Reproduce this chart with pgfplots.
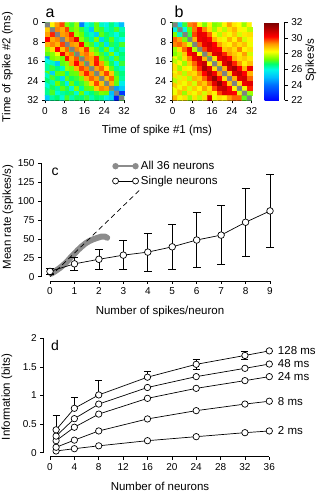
\documentclass[border=0pt]{standalone}
\usepackage{fontspec}
\setmainfont{Liberation Sans}
\usepackage{pgfplots}
\pgfplotsset{compat=1.18}
\definecolor{gr}{RGB}{140,140,140}
\definecolor{hg}{RGB}{128,128,128}
\pgfplotsset{
  colormap={spk}{rgb255(0)=(0,0,255) rgb255(20)=(0,110,255) rgb255(30)=(0,190,255) rgb255(40)=(0,250,230) rgb255(47)=(0,255,110) rgb255(53)=(110,255,0) rgb255(63)=(255,255,0) rgb255(73)=(255,150,0) rgb255(82)=(255,0,0) rgb255(100)=(120,0,0)},
  base/.style={scale only axis, axis line style={-, line width=0.6pt}, tick align=outside,
    major tick length=3pt, tick style={line width=0.6pt, black},
    ticklabel style={font=\fontsize{10}{12}\selectfont},
    /pgf/number format/assume math mode=true, clip=false},
  hm/.style={base, width=79pt, height=78pt, xmin=0, xmax=32, ymin=-32, ymax=0,
    axis lines*=left, xtick={0,8,...,32}, ytick={-32,-24,-16,-8,0},
    yticklabels={32,24,16,8,0}, colormap name=spk, point meta min=22, point meta max=32,
    enlargelimits=false},
}
\begin{document}
\begin{tikzpicture}[font=\fontsize{11.5}{13}\selectfont]
\useasboundingbox (0,0) rectangle (319pt,497pt);

% ---------- panel a ----------
\begin{axis}[hm, at={(45pt,396.5pt)}, anchor=south west]
\addplot[matrix plot*, mesh/cols=16, point meta=explicit]
 table[row sep=\\, x expr={mod(\coordindex,16)*2+1}, y expr={-(floor(\coordindex/16)*2+1)}, meta=z] {
z\\
27\\ 28.4\\ 29.2\\ 29.8\\ 27.4\\ 27.0\\ 27.6\\ 24.2\\ 26.0\\ 26.4\\ 27.2\\ 26.2\\ 25.9\\ 26.6\\ 26.1\\ 25.0\\
28.8\\ 27\\ 29.4\\ 29.1\\ 29.8\\ 27.2\\ 27.5\\ 27.0\\ 26.3\\ 25.2\\ 27.3\\ 27.0\\ 26.2\\ 26.5\\ 27.1\\ 26.3\\
29.2\\ 30.0\\ 27\\ 29.2\\ 29.4\\ 30.1\\ 27.6\\ 27.3\\ 26.5\\ 26.2\\ 25.3\\ 27.2\\ 26.8\\ 26.4\\ 26.0\\ 26.6\\
30.2\\ 29.1\\ 29.4\\ 27\\ 29.2\\ 29.6\\ 30.4\\ 27.5\\ 27.0\\ 26.4\\ 27.4\\ 25.4\\ 26.6\\ 27.2\\ 26.3\\ 26.0\\
29.0\\ 29.4\\ 29.0\\ 29.8\\ 27\\ 29.3\\ 29.1\\ 30.2\\ 27.4\\ 27.1\\ 26.2\\ 27.0\\ 25.6\\ 26.9\\ 26.5\\ 27.1\\
27.6\\ 28.6\\ 30.2\\ 28.9\\ 29.6\\ 27\\ 29.4\\ 29.0\\ 29.9\\ 27.6\\ 27.2\\ 26.5\\ 27.3\\ 26.0\\ 26.8\\ 26.2\\
27.2\\ 27.5\\ 28.2\\ 30.4\\ 29.1\\ 29.5\\ 27\\ 29.2\\ 29.5\\ 28.9\\ 27.5\\ 27.1\\ 26.4\\ 27.4\\ 26.1\\ 26.7\\
24.6\\ 27.4\\ 27.6\\ 27.3\\ 30.1\\ 29.1\\ 29.7\\ 27\\ 29.4\\ 29.2\\ 30.0\\ 27.3\\ 27.0\\ 26.3\\ 27.2\\ 26.5\\
26.0\\ 26.2\\ 25.2\\ 27.2\\ 27.5\\ 29.2\\ 30.2\\ 29.3\\ 27\\ 29.1\\ 30.1\\ 29.2\\ 27.4\\ 26.8\\ 26.0\\ 27.0\\
26.4\\ 27.0\\ 26.6\\ 26.2\\ 27.6\\ 27.4\\ 29.0\\ 29.8\\ 29.4\\ 27\\ 29.2\\ 29.6\\ 28.6\\ 27.2\\ 26.5\\ 26.2\\
27.2\\ 25.4\\ 27.2\\ 27.3\\ 26.5\\ 27.2\\ 27.3\\ 29.1\\ 30.0\\ 29.3\\ 27\\ 29.0\\ 29.8\\ 28.8\\ 27.0\\ 26.6\\
26.2\\ 27.1\\ 26.6\\ 25.5\\ 27.2\\ 26.8\\ 27.0\\ 27.4\\ 29.0\\ 29.6\\ 29.2\\ 27\\ 28.9\\ 29.6\\ 27.3\\ 26.4\\
26.7\\ 26.3\\ 27.3\\ 26.8\\ 25.8\\ 27.3\\ 26.6\\ 27.0\\ 27.5\\ 28.7\\ 29.8\\ 28.9\\ 27\\ 29.0\\ 27.2\\ 25.8\\
26.1\\ 26.8\\ 26.4\\ 27.2\\ 26.9\\ 26.1\\ 27.4\\ 26.4\\ 27.2\\ 27.3\\ 28.8\\ 29.4\\ 29.2\\ 27\\ 24.6\\ 25.2\\
26.5\\ 27.1\\ 26.1\\ 26.4\\ 26.6\\ 26.9\\ 26.1\\ 27.3\\ 26.2\\ 26.6\\ 27.0\\ 27.4\\ 27.3\\ 25.0\\ 27\\ 23.0\\
25.2\\ 26.4\\ 26.7\\ 26.1\\ 27.1\\ 26.3\\ 26.8\\ 26.6\\ 27.0\\ 26.3\\ 26.7\\ 26.5\\ 25.9\\ 25.4\\ 22.5\\ 27\\
};
\addplot[fill=hg, draw=none] coordinates {(0,0)(2,0)(2,-2)(4,-2)(4,-4)(6,-4)(6,-6)(8,-6)(8,-8)(10,-8)(10,-10)(12,-10)(12,-12)(14,-12)(14,-14)(16,-14)(16,-16)(18,-16)(18,-18)(20,-18)(20,-20)(22,-20)(22,-22)(24,-22)(24,-24)(26,-24)(26,-26)(28,-26)(28,-28)(30,-28)(30,-30)(32,-30)(32,-32)(30,-32)(30,-30)(28,-30)(28,-28)(26,-28)(26,-26)(24,-26)(24,-24)(22,-24)(22,-22)(20,-22)(20,-20)(18,-20)(18,-18)(16,-18)(16,-16)(14,-16)(14,-14)(12,-14)(12,-12)(10,-12)(10,-10)(8,-10)(8,-8)(6,-8)(6,-6)(4,-6)(4,-4)(2,-4)(2,-2)(0,-2)} -- cycle;
\end{axis}

% ---------- panel b ----------
\begin{axis}[hm, at={(172.7pt,396.5pt)}, anchor=south west,
  colorbar, colorbar style={at={(parent axis.north east)}, anchor=north west, xshift=4.5pt,
    width=20pt, height=78pt, scale only axis, ymin=22, ymax=32, ytick={22,24,...,32},
    axis x line=none, axis y line*=right, axis line style={-, line width=0.6pt},
    tick align=outside, major tick length=3pt, tick style={line width=0.6pt, black},
    yticklabel style={font=\fontsize{10}{12}\selectfont},
    /pgf/number format/assume math mode=true}]
\addplot[matrix plot*, mesh/cols=16, point meta=explicit]
 table[row sep=\\, x expr={mod(\coordindex,16)*2+1}, y expr={-(floor(\coordindex/16)*2+1)}, meta=z] {
z\\
27\\ 25.5\\ 27.0\\ 29.4\\ 29.6\\ 28.2\\ 27.4\\ 28.4\\ 27.4\\ 27.6\\ 28.4\\ 29.2\\ 28.5\\ 28.3\\ 27.6\\ 28.4\\
25.8\\ 27\\ 26.0\\ 27.2\\ 29.5\\ 30.2\\ 29.4\\ 28.6\\ 27.6\\ 28.5\\ 27.8\\ 28.6\\ 29.0\\ 28.4\\ 28.2\\ 27.8\\
27.4\\ 26.2\\ 27\\ 27.0\\ 29.8\\ 30.5\\ 30.4\\ 29.6\\ 28.4\\ 27.8\\ 28.6\\ 28.2\\ 28.8\\ 28.0\\ 28.5\\ 28.6\\
29.6\\ 29.2\\ 27.4\\ 27\\ 29.0\\ 30.4\\ 30.6\\ 30.2\\ 29.0\\ 28.5\\ 28.2\\ 29.0\\ 28.4\\ 29.2\\ 28.0\\ 28.4\\
29.4\\ 29.6\\ 29.2\\ 28.0\\ 27\\ 29.6\\ 30.5\\ 30.8\\ 30.2\\ 29.2\\ 28.6\\ 28.4\\ 29.0\\ 28.6\\ 28.9\\ 28.2\\
27.6\\ 28.6\\ 29.6\\ 30.4\\ 27.8\\ 27\\ 29.8\\ 30.6\\ 30.4\\ 30.2\\ 28.8\\ 29.0\\ 28.6\\ 29.4\\ 28.4\\ 28.6\\
27.4\\ 27.8\\ 28.8\\ 30.2\\ 30.6\\ 28.4\\ 27\\ 29.2\\ 30.6\\ 30.8\\ 30.0\\ 29.2\\ 28.8\\ 28.5\\ 29.2\\ 28.0\\
28.4\\ 27.6\\ 28.6\\ 29.4\\ 30.4\\ 30.8\\ 29.0\\ 27\\ 28.6\\ 30.4\\ 30.8\\ 30.2\\ 29.0\\ 28.6\\ 28.8\\ 28.5\\
27.8\\ 28.4\\ 27.6\\ 28.8\\ 29.6\\ 30.5\\ 31.0\\ 28.4\\ 27\\ 28.8\\ 30.6\\ 31.2\\ 30.0\\ 29.2\\ 28.4\\ 28.9\\
28.6\\ 27.6\\ 28.5\\ 28.2\\ 29.2\\ 30.0\\ 31.4\\ 30.6\\ 28.6\\ 27\\ 29.0\\ 30.8\\ 31.4\\ 30.2\\ 29.0\\ 30.4\\
28.2\\ 28.8\\ 27.8\\ 28.8\\ 28.6\\ 29.4\\ 30.2\\ 31.2\\ 30.4\\ 29.2\\ 27\\ 28.8\\ 30.6\\ 31.0\\ 30.2\\ 29.0\\
28.6\\ 28.0\\ 28.6\\ 27.8\\ 29.0\\ 28.8\\ 29.6\\ 30.6\\ 31.6\\ 30.2\\ 28.6\\ 27\\ 29.0\\ 30.6\\ 30.8\\ 29.6\\
27.8\\ 28.6\\ 28.2\\ 28.8\\ 28.0\\ 29.2\\ 28.8\\ 29.6\\ 30.6\\ 31.6\\ 30.4\\ 28.8\\ 27\\ 28.6\\ 30.4\\ 30.6\\
28.8\\ 28.2\\ 28.8\\ 28.0\\ 28.8\\ 28.4\\ 29.2\\ 28.6\\ 29.8\\ 30.8\\ 31.0\\ 30.2\\ 28.4\\ 27\\ 28.2\\ 30.0\\
28.2\\ 28.9\\ 27.6\\ 28.6\\ 28.2\\ 28.8\\ 28.0\\ 28.8\\ 28.4\\ 29.8\\ 30.6\\ 30.4\\ 30.2\\ 28.0\\ 27\\ 27.6\\
29.0\\ 28.2\\ 28.6\\ 27.6\\ 28.6\\ 27.8\\ 28.6\\ 30.6\\ 28.2\\ 28.6\\ 28.4\\ 29.2\\ 29.6\\ 29.6\\ 27.2\\ 27\\
};
\addplot[fill=hg, draw=none] coordinates {(0,0)(2,0)(2,-2)(4,-2)(4,-4)(6,-4)(6,-6)(8,-6)(8,-8)(10,-8)(10,-10)(12,-10)(12,-12)(14,-12)(14,-14)(16,-14)(16,-16)(18,-16)(18,-18)(20,-18)(20,-20)(22,-20)(22,-22)(24,-22)(24,-24)(26,-24)(26,-26)(28,-26)(28,-28)(30,-28)(30,-30)(32,-30)(32,-32)(30,-32)(30,-30)(28,-30)(28,-28)(26,-28)(26,-26)(24,-26)(24,-24)(22,-24)(22,-22)(20,-22)(20,-20)(18,-20)(18,-18)(16,-18)(16,-16)(14,-16)(14,-14)(12,-14)(12,-12)(10,-12)(10,-10)(8,-10)(8,-8)(6,-8)(6,-6)(4,-6)(4,-4)(2,-4)(2,-2)(0,-2)} -- cycle;
\end{axis}

\node[font=\fontsize{16}{18}\selectfont] at (50pt,484pt) {a};
\node[font=\fontsize{16}{18}\selectfont] at (179pt,485pt) {b};
\node[rotate=90] at (7.5pt,430pt) {Time of spike \#2 (ms)};
\node at (157pt,366pt) {Time of spike \#1 (ms)};
\node[rotate=90] at (311pt,437pt) {Spikes/s};

% ---------- panel c ----------
\begin{axis}[base, at={(41pt,216pt)}, anchor=south west, width=229pt, height=117.7pt,
  xmin=-0.368, xmax=9, ymin=-5.7, ymax=150, axis lines*=left,
  x axis line style={shorten <=9pt}, y axis line style={shorten <=4.3pt},
  xtick={0,...,9}, ytick={0,25,...,150},
  legend style={at={(rel axis cs:0.31,1.036)}, anchor=north west, draw=none, fill=none,
    font=\fontsize{11.5}{13}\selectfont, row sep=1pt, inner sep=0pt},
  legend cell align=left]
\addplot[gr, line width=6pt, line cap=round, line join=round,
  legend image code/.code={\draw[gr, line width=2.5pt, line cap=butt] (0pt,0pt) -- (20pt,0pt);
    \fill[gr, draw=none] (0pt,0pt) circle (3.2pt) (20pt,0pt) circle (3.2pt);}]
  coordinates {(0,6)(0.05,4)(0.2,7)(0.4,11.5)(0.55,15.5)(0.7,20)(0.85,25.5)(1.0,30.5)(1.15,35.5)(1.3,40)(1.45,44)(1.6,47)(1.77,49.5)(1.95,51.5)(2.1,53)(2.25,53)(2.34,51.5)};
\addlegendentry{All 36 neurons}
\addplot[black, line width=0.7pt, dash pattern=on 5pt off 3.5pt, forget plot] coordinates {(0,0)(3.65,114)};
\addplot[black, line width=0.7pt, mark=*, mark size=3.3pt, mark options={fill=white, draw=black, line width=0.7pt},
  legend image code/.code={\draw[black, line width=0.7pt] (0pt,0pt) -- (20pt,0pt);
    \draw[black, line width=0.7pt, fill=white] (0pt,0pt) circle (3pt) (20pt,0pt) circle (3pt);},
  error bars/.cd, y dir=both, y explicit, error bar style={line width=0.7pt},
  error mark options={rotate=90, mark size=4pt, line width=0.7pt}]
  coordinates {(0,7) +- (0,3.5) (1,17) +- (0,8.5) (2,23) +- (0,13.5) (3,28.5) +- (0,19) (4,32.5) +- (0,25) (5,39.5) +- (0,30) (6,48.5) +- (0,36) (7,55) +- (0,39) (8,72) +- (0,45) (9,87) +- (0,48)};
\addlegendentry{Single neurons}
\end{axis}

% ---------- panel d ----------
\begin{axis}[base, at={(43.3pt,40.3pt)}, anchor=south west, width=226pt, height=118.4pt,
  xmin=-1.1, xmax=36, ymin=-0.07, ymax=2, axis lines*=left,
  x axis line style={shorten <=6.7pt}, y axis line style={shorten <=4pt},
  xtick={0,4,...,36}, ytick={0,0.5,1,1.5,2}]
\addplot[black, line width=0.7pt, mark=*, mark size=3.2pt, mark options={fill=white, draw=black, line width=0.7pt}]
  coordinates {(1,0.03)(4,0.07)(8,0.12)(16,0.21)(24,0.28)(32,0.35)(36,0.38)} node[pos=1, anchor=west, xshift=5pt, font=\fontsize{11.5}{13}\selectfont] {2 ms};
\addplot[black, line width=0.7pt, mark=*, mark size=3.2pt, mark options={fill=white, draw=black, line width=0.7pt}]
  coordinates {(1,0.095)(4,0.22)(8,0.38)(16,0.59)(24,0.735)(32,0.85)(36,0.90)} node[pos=1, anchor=west, xshift=5pt, font=\fontsize{11.5}{13}\selectfont] {8 ms};
\addplot[black, line width=0.7pt, mark=*, mark size=3.2pt, mark options={fill=white, draw=black, line width=0.7pt}]
  coordinates {(1,0.21)(4,0.445)(8,0.675)(16,0.95)(24,1.125)(32,1.26)(36,1.33)} node[pos=1, anchor=west, xshift=5pt, font=\fontsize{11.5}{13}\selectfont] {24 ms};
\addplot[black, line width=0.7pt, mark=*, mark size=3.2pt, mark options={fill=white, draw=black, line width=0.7pt}]
  coordinates {(1,0.29)(4,0.595)(8,0.85)(16,1.14)(24,1.33)(32,1.475)(36,1.55)} node[pos=1, anchor=west, xshift=5pt, font=\fontsize{11.5}{13}\selectfont] {48 ms};
\addplot[black, line width=0.7pt, mark=*, mark size=3.2pt, mark options={fill=white, draw=black, line width=0.7pt},
  error bars/.cd, y dir=both, y explicit, error bar style={line width=0.7pt},
  error mark options={rotate=90, mark size=3.5pt, line width=0.7pt}]
  coordinates {(1,0.40) += (0,0.26) -= (0,0) (4,0.776) += (0,0.19) -= (0,0) (8,1.01) += (0,0.26) -= (0,0) (16,1.32) += (0,0.11) -= (0,0) (24,1.545) += (0,0.08) -= (0,0.08) (32,1.70) += (0,0.065) -= (0,0.065) (36,1.78) += (0,0) -= (0,0)} node[pos=1, anchor=west, xshift=5pt, font=\fontsize{11.5}{13}\selectfont] {128 ms};
\end{axis}

\node[font=\fontsize{14}{16}\selectfont] at (55pt,325pt) {c};
\node[font=\fontsize{14}{16}\selectfont] at (55pt,152pt) {d};
\node[rotate=90] at (8pt,280pt) {Mean rate (spikes/s)};
\node at (160pt,185pt) {Number of spikes/neuron};
\node[rotate=90] at (7pt,100pt) {Information (bits)};
\node at (160pt,10.5pt) {Number of neurons};
\end{tikzpicture}
\end{document}
